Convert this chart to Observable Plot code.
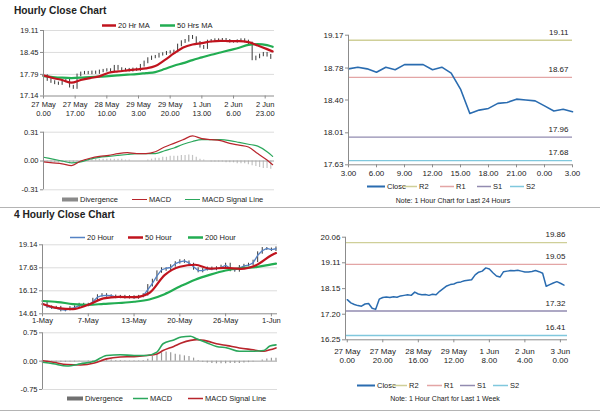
<!DOCTYPE html>
<html><head><meta charset="utf-8">
<script src="https://cdn.jsdelivr.net/npm/d3@7"></script>
<script src="https://cdn.jsdelivr.net/npm/@observablehq/plot@0.6"></script>
<style>
body{margin:0;background:#fff;}
#root{position:relative;width:600px;height:413px;overflow:hidden;font-family:"Liberation Sans",Arial,sans-serif;color:#222;background:#fff;}
.title{position:absolute;font-weight:bold;font-size:10.2px;white-space:nowrap;}
.leg{position:absolute;font-size:7.5px;display:flex;align-items:center;white-space:nowrap;transform:translateY(-50%);}
.note{position:absolute;font-size:7px;white-space:nowrap;transform:translate(-50%,-50%);}
.sep{position:absolute;left:0;width:600px;height:1px;background:#b4b4b4;}
</style></head><body><div id="root"></div><script>
// ---------- Hourly chart data (hour index from 27 May 0.00) ----------
const hourTicks = [0, 17, 34, 51, 68, 85, 102, 119];
const hourTickLabels = ["27 May\n0.00","27 May\n17.00","28 May\n10.00","29 May\n3.00","29 May\n20.00","1 Jun\n13.00","2 Jun\n6.00","2 Jun\n23.00"];
const hourlyYTicks = [17.14, 17.79, 18.45, 19.11];
// close every 2 hours
const hourlyClose = [
  17.74,17.62,17.56,17.52,17.50,17.58,17.60,17.42,17.38,17.76,
  17.82,17.84,17.82,17.85,17.83,17.88,17.90,17.92,17.90,18.02,
  17.95,17.92,17.93,17.90,17.94,17.92,18.05,18.15,18.25,18.30,
  18.32,18.38,18.40,18.44,18.46,18.48,18.66,18.76,18.80,18.92,
  18.88,18.74,18.62,18.58,18.78,18.80,18.82,18.81,18.83,18.80,
  18.77,18.77,18.79,18.82,18.78,18.72,18.24,18.30,18.36,18.41,
  18.35,18.28];
const maHours = [0,5,10,15,20,25,30,35,40,45,50,55,60,65,70,75,80,85,90,95,100,105,110,115,120,123];
const ma20Hr = [17.76,17.68,17.62,17.54,17.62,17.68,17.73,17.84,17.88,17.91,17.94,17.97,18.04,18.22,18.42,18.60,18.69,18.73,18.78,18.80,18.79,18.79,18.76,18.66,18.55,18.48];
const ma50Hr = [17.74,17.71,17.69,17.68,17.69,17.71,17.72,17.74,17.76,17.78,17.80,17.83,17.86,17.95,18.05,18.13,18.22,18.30,18.38,18.45,18.52,18.59,18.68,18.70,18.67,18.62];
const macdHourly = [-0.01,-0.02,-0.03,-0.05,0.00,0.03,0.05,0.06,0.08,0.09,0.08,0.08,0.10,0.15,0.19,0.23,0.27,0.24,0.23,0.22,0.19,0.17,0.15,0.08,0.01,-0.04];
const signalHourly = [0.04,0.02,0.00,-0.02,-0.01,0.02,0.04,0.05,0.06,0.07,0.08,0.08,0.08,0.11,0.14,0.18,0.21,0.23,0.23,0.23,0.22,0.20,0.18,0.16,0.10,0.05];
const divergenceHourly = [
  -0.01,-0.01,-0.02,-0.02,-0.02,-0.02,-0.02,-0.03,-0.02,-0.01,
  0.00,0.01,0.01,0.02,0.02,0.02,0.02,0.02,0.02,0.02,
  0.02,0.02,0.01,0.01,0.00,0.00,0.00,0.00,0.01,0.02,
  0.03,0.03,0.04,0.04,0.05,0.05,0.05,0.06,0.06,0.065,
  0.06,0.04,0.02,0.01,0.00,-0.01,-0.01,-0.01,-0.01,-0.02,
  -0.02,-0.02,-0.03,-0.03,-0.03,-0.04,-0.05,-0.06,-0.07,-0.08,
  -0.08,-0.09];
const macdHourlyTicks = [-0.31, 0, 0.31];

// ---------- Last 24 hours ----------
const last24Close = [18.77,18.79,18.77,18.73,18.79,18.76,18.82,18.82,18.82,18.76,18.79,18.72,18.53,18.24,18.28,18.30,18.36,18.37,18.41,18.40,18.39,18.33,18.27,18.29,18.26];
const last24Ticks = [0,3,6,9,12,15,18,21,24];
const last24TickLabels = ["3.00","6.00","9.00","12.00","15.00","18.00","21.00","0.00","3.00"];
const last24YTicks = [17.63, 18.01, 18.40, 18.78, 19.17];
const levels24 = [19.11, 18.67, 17.96, 17.68];
const levelNames = ["R2","R1","S1","S2"];

// ---------- Last week (same hourly closes) ----------
const weekTicks = [0,20,40,60,80,100,120];
const weekTickLabels = ["27 May\n0.00","27 May\n20.00","28 May\n16.00","29 May\n12.00","1 Jun\n8.00","2 Jun\n4.00","3 Jun\n0.00"];
const weekYTicks = [16.25, 17.20, 18.15, 19.11, 20.06];
const levelsWeek = [19.86, 19.05, 17.32, 16.41];

// ---------- 4 hourly chart (bar index from 1-May) ----------
const fourTicks = [0,30,60,90,120,150];
const fourTickLabels = ["1-May","7-May","13-May","20-May","26-May","1-Jun"];
const fourYTicks = [14.61, 16.12, 17.63, 19.14];
// every 3 bars
const close4h = [
  15.35,15.05,14.98,15.02,14.82,14.88,15.00,15.05,15.22,15.15,
  15.22,15.55,15.78,15.85,15.78,15.76,15.68,15.74,15.66,15.72,
  15.64,15.74,15.85,16.45,16.80,17.35,17.55,17.48,17.75,17.95,
  18.08,18.00,17.85,17.55,17.38,17.50,17.60,17.52,17.62,17.72,
  17.85,17.45,17.42,17.70,17.78,17.85,18.05,18.60,18.88,18.85,
  18.78,18.92];
const ma20Hour = [
  15.30,15.10,15.02,14.98,14.88,14.85,14.95,15.02,15.15,15.20,
  15.18,15.40,15.70,15.80,15.82,15.80,15.72,15.70,15.72,15.70,
  15.68,15.70,15.78,16.20,16.60,17.10,17.50,17.60,17.65,17.90,
  18.02,18.08,17.95,17.70,17.45,17.45,17.55,17.55,17.58,17.65,
  17.80,17.60,17.50,17.62,17.75,17.80,17.95,18.45,18.75,18.90,
  18.82,18.88];
const slowBars = [0,10,20,30,40,50,60,70,80,90,100,110,120,130,140,150,153];
const ma50Hour = [15.25,14.98,14.92,15.20,15.62,15.72,15.70,15.98,17.15,17.70,17.83,17.58,17.62,17.56,17.80,18.45,18.60];
const ma200Hour = [15.45,15.38,15.25,15.20,15.26,15.32,15.40,15.55,15.90,16.40,16.85,17.18,17.45,17.60,17.68,17.85,17.90];
const macdBars = [0,7,16,25,34,42,51,60,68,75,79,86,91,97,101,108,114,121,129,138,145,149,153];
const macd4h = [-0.03,-0.07,-0.13,-0.07,0.00,0.15,0.17,0.15,0.15,0.24,0.46,0.56,0.64,0.66,0.59,0.48,0.39,0.35,0.26,0.26,0.28,0.40,0.43];
const signal4h = [0.01,-0.03,-0.09,-0.10,-0.05,0.06,0.11,0.12,0.15,0.19,0.28,0.39,0.48,0.55,0.57,0.53,0.46,0.41,0.35,0.30,0.26,0.30,0.35];
const divergence4h = [
  -0.01,-0.02,-0.02,-0.03,-0.03,-0.03,-0.02,-0.02,-0.01,0.00,0.01,
  0.02,0.03,0.03,0.03,0.03,0.02,0.02,0.01,0.01,0.01,0.01,
  0.02,0.05,0.12,0.18,0.22,0.24,0.22,0.18,0.16,0.14,0.12,
  0.08,0.02,-0.03,-0.05,-0.06,-0.07,-0.07,-0.07,-0.06,-0.06,-0.06,
  -0.05,-0.04,-0.02,0.00,0.03,0.06,0.08,0.08];
const macd4hTicks = [-0.75, 0, 0.75];

// ---------- styles ----------
const FONT = "Liberation Sans, Arial, Helvetica, sans-serif";
const RED = "#c0141e", GREEN = "#22ad52", BLUE20 = "#5582c4", CLOSE = "#2a6cb0";
const MACD_RED = "#b8252c", MACD_GREEN = "#2ba75c";
const LEVEL_COLORS = ["#cfcf98", "#e3a5a5", "#928bb0", "#80c8dd"];
const AXIS = "#8c8c8c", GRID = "#dcdcdc";
const style = {fontFamily: FONT, fontSize: "7.5px", color: "#222", background: "transparent", overflow: "visible"};
const root = document.getElementById("root");
function place(el, left, top) { el.style.position = "absolute"; el.style.left = left + "px"; el.style.top = top + "px"; root.appendChild(el); }
const f2 = d => d.toFixed(2);
const lookup = (ticks, labels) => d => labels[ticks.indexOf(d)];

// ---------- rows ----------
const hourRows = hourlyClose.map((c, i) => ({h: i * 2, c, p: i ? hourlyClose[i - 1] : c}));
const maRows = maHours.map((h, i) => ({h, a: ma20Hr[i], b: ma50Hr[i], m: macdHourly[i], s: signalHourly[i]}));
const divRows = divergenceHourly.map((v, i) => ({h: i * 2, v}));
const fourRows = close4h.map((c, i) => ({b: i * 3, c, p: i ? close4h[i - 1] : c, m20: ma20Hour[i], d: divergence4h[i]}));
const slowRows = slowBars.map((b, i) => ({b, m50: ma50Hour[i], m200: ma200Hour[i]}));
const macd4Rows = macdBars.map((b, i) => ({b, m: macd4h[i], s: signal4h[i]}));

// ---------- A: hourly close ----------
place(Plot.plot({
  width: 290, height: 100, marginLeft: 43, marginRight: 16, marginTop: 10, marginBottom: 24.5, style,
  x: {domain: [0, 124], label: null}, y: {domain: [17.14, 19.11], label: null},
  marks: [
    Plot.ruleY(hourlyYTicks.slice(1), {stroke: GRID}),
    Plot.ruleX(hourRows, {x: "h", y1: d => Math.max(d.p, d.c), y2: d => Math.min(d.p, d.c), stroke: "#3a3a3a", strokeWidth: 1, insetTop: -1.3, insetBottom: -1.3}),
    Plot.line(maRows, {x: "h", y: "b", stroke: GREEN, strokeWidth: 2.2, curve: "monotone-x"}),
    Plot.line(maRows, {x: "h", y: "a", stroke: RED, strokeWidth: 2.2, curve: "monotone-x"}),
    Plot.ruleX([0], {stroke: AXIS}),
    Plot.ruleY([17.14], {stroke: AXIS}),
    Plot.axisY({ticks: hourlyYTicks, tickFormat: f2, tickSize: 3, tickPadding: 2, stroke: AXIS, label: null}),
    Plot.axisX({ticks: hourTicks, tickFormat: lookup(hourTicks, hourTickLabels), tickSize: 3, tickPadding: 1, lineHeight: 1.25, stroke: AXIS, label: null})
  ]
}), 0, 20);

// ---------- B: hourly MACD ----------
place(Plot.plot({
  width: 290, height: 70, marginLeft: 43, marginRight: 16, marginTop: 6.7, marginBottom: 5.7, style,
  x: {domain: [0, 124], label: null, axis: null}, y: {domain: [-0.31, 0.31], label: null},
  marks: [
    Plot.ruleY([0.31, -0.31], {stroke: GRID}),
    Plot.ruleX(divRows, {x: "h", y1: 0, y2: "v", stroke: "#c4c4c4", strokeWidth: 1.2}),
    Plot.ruleY([0], {stroke: "#a0a0a0"}),
    Plot.line(maRows, {x: "h", y: "s", stroke: MACD_GREEN, strokeWidth: 1.2, curve: "monotone-x"}),
    Plot.line(maRows, {x: "h", y: "m", stroke: MACD_RED, strokeWidth: 1.2, curve: "monotone-x"}),
    Plot.ruleX([0], {stroke: AXIS}),
    Plot.axisY({ticks: macdHourlyTicks, tickFormat: f2, tickSize: 3, tickPadding: 2, stroke: AXIS, label: null})
  ]
}), 0, 125);

// ---------- C: last 24 hours ----------
place(Plot.plot({
  width: 300, height: 160, marginLeft: 48, marginRight: 28, marginTop: 14.7, marginBottom: 15.7, style,
  x: {domain: [0, 24], label: null}, y: {domain: [17.63, 19.17], label: null},
  marks: [
    ...levels24.map((v, i) => Plot.ruleY([v], {stroke: LEVEL_COLORS[i], strokeWidth: 1.3})),
    Plot.text(levels24, {x: 24, y: d => d, text: f2, textAnchor: "end", dx: -4, dy: -8, fontSize: 8}),
    Plot.line(last24Close, {x: (d, i) => i, y: d => d, stroke: CLOSE, strokeWidth: 1.6}),
    Plot.ruleX([0], {stroke: AXIS}),
    Plot.ruleY([17.63], {stroke: AXIS}),
    Plot.axisY({ticks: last24YTicks, tickFormat: f2, tickSize: 3, tickPadding: 2, stroke: AXIS, label: null, fontSize: 8}),
    Plot.axisX({ticks: last24Ticks, tickFormat: lookup(last24Ticks, last24TickLabels), tickSize: 3, tickPadding: 3, stroke: AXIS, label: null, fontSize: 8})
  ]
}), 300, 20);

// ---------- D: 4 hourly close ----------
place(Plot.plot({
  width: 290, height: 100, marginLeft: 42, marginRight: 13, marginTop: 14.3, marginBottom: 16.7, style,
  x: {domain: [0, 154], label: null}, y: {domain: [14.61, 19.14], label: null},
  marks: [
    Plot.ruleY(fourYTicks.slice(1), {stroke: GRID}),
    Plot.ruleX(fourRows, {x: "b", y1: d => Math.max(d.p, d.c), y2: d => Math.min(d.p, d.c), stroke: "#3a3a3a", strokeWidth: 1, insetTop: -1.2, insetBottom: -1.2}),
    Plot.line(fourRows, {x: "b", y: "m20", stroke: BLUE20, strokeWidth: 1.3}),
    Plot.line(slowRows, {x: "b", y: "m200", stroke: GREEN, strokeWidth: 2.2, curve: "monotone-x"}),
    Plot.line(slowRows, {x: "b", y: "m50", stroke: RED, strokeWidth: 2.2, curve: "monotone-x"}),
    Plot.ruleX([0], {stroke: AXIS}),
    Plot.ruleY([14.61], {stroke: AXIS}),
    Plot.axisY({ticks: fourYTicks, tickFormat: f2, tickSize: 3, tickPadding: 2, stroke: AXIS, label: null}),
    Plot.axisX({ticks: fourTicks, tickFormat: lookup(fourTicks, fourTickLabels), tickSize: 3, tickPadding: 1, stroke: AXIS, label: null})
  ]
}), 0, 230);

// ---------- E: 4 hourly MACD ----------
place(Plot.plot({
  width: 290, height: 68, marginLeft: 42, marginRight: 13, marginTop: 6.3, marginBottom: 5, style,
  x: {domain: [0, 154], label: null, axis: null}, y: {domain: [-0.75, 0.75], label: null},
  marks: [
    Plot.ruleY([0.75, -0.75], {stroke: GRID}),
    Plot.ruleX(fourRows, {x: "b", y1: 0, y2: "d", stroke: "#9a9a9a", strokeWidth: 1.2}),
    Plot.ruleY([0], {stroke: "#a0a0a0"}),
    Plot.line(macd4Rows, {x: "b", y: "s", stroke: MACD_RED, strokeWidth: 1.6, curve: "monotone-x"}),
    Plot.line(macd4Rows, {x: "b", y: "m", stroke: MACD_GREEN, strokeWidth: 1.6, curve: "monotone-x"}),
    Plot.ruleX([0], {stroke: AXIS}),
    Plot.axisY({ticks: macd4hTicks, tickFormat: f2, tickSize: 3, tickPadding: 2, stroke: AXIS, label: null})
  ]
}), 0, 326);

// ---------- F: last week ----------
place(Plot.plot({
  width: 300, height: 145, marginLeft: 45, marginRight: 33, marginTop: 11.7, marginBottom: 30.7, style,
  x: {domain: [-1, 124], label: null}, y: {domain: [16.25, 20.06], label: null},
  marks: [
    ...levelsWeek.map((v, i) => Plot.ruleY([v], {stroke: LEVEL_COLORS[i], strokeWidth: 1.3})),
    Plot.text(levelsWeek, {x: 124, y: d => d, text: f2, textAnchor: "end", dx: -2, dy: -8, fontSize: 8}),
    Plot.line(hourRows, {x: "h", y: "c", stroke: CLOSE, strokeWidth: 1.5}),
    Plot.ruleX([-1], {stroke: AXIS}),
    Plot.ruleY([16.25], {stroke: AXIS}),
    Plot.axisY({ticks: weekYTicks, tickFormat: f2, tickSize: 3, tickPadding: 2, stroke: AXIS, label: null, fontSize: 8}),
    Plot.axisX({ticks: weekTicks, tickFormat: lookup(weekTicks, weekTickLabels), tickSize: 3, tickPadding: 4, lineHeight: 1.2, stroke: AXIS, label: null, fontSize: 8})
  ]
}), 300, 225);

// ---------- titles, legends, notes, separators ----------
function title(text, top) { const d = document.createElement("div"); d.className = "title"; d.textContent = text; d.style.left = "14px"; d.style.top = top + "px"; root.appendChild(d); }
function leg(x, y, label, color, width, len, bar) {
  const d = document.createElement("div"); d.className = "leg"; d.style.left = x + "px"; d.style.top = y + "px";
  const sw = bar ? `<svg width="${len}" height="6"><rect x="0" y="1" width="${len}" height="4" fill="${color}"/></svg>`
                 : `<svg width="${len}" height="4"><line x1="0" y1="2" x2="${len}" y2="2" stroke="${color}" stroke-width="${width}"/></svg>`;
  d.innerHTML = sw + `<span style="margin-left:2px">${label}</span>`; root.appendChild(d);
}
function note(text, x, y) { const d = document.createElement("div"); d.className = "note"; d.textContent = text; d.style.left = x + "px"; d.style.top = y + "px"; root.appendChild(d); }
function sep(y) { const d = document.createElement("div"); d.className = "sep"; d.style.top = y + "px"; root.appendChild(d); }

title("Hourly Close Chart", 5);
title("4 Hourly Close Chart", 209);
sep(207); sep(410);

leg(102, 25, "20 Hr MA", RED, 2.5, 14);
leg(160, 25, "50 Hrs MA", GREEN, 2.5, 15);
leg(62, 199, "Divergence", "#8a8a8a", 0, 16, true);
leg(132, 199, "MACD", MACD_RED, 1.2, 15);
leg(185, 199, "MACD Signal Line", MACD_GREEN, 1.2, 15);

const legX24 = [367, 403, 440, 477, 510];
["Close", ...levelNames].forEach((n, i) => leg(legX24[i], 186, n, i ? LEVEL_COLORS[i - 1] : CLOSE, i ? 1.3 : 2, i ? 14 : 18));
note("Note: 1 Hour Chart for Last 24 Hours", 453, 200);

leg(70, 237, "20 Hour", BLUE20, 1.6, 15);
leg(128, 237, "50 Hour", RED, 2.5, 15);
leg(188, 237, "200 Hour", GREEN, 2.5, 15);
leg(67, 398, "Divergence", "#707070", 0, 16, true);
leg(133, 398, "MACD", MACD_GREEN, 1.6, 15);
leg(188, 398, "MACD Signal Line", MACD_RED, 1.6, 15);

const legXWk = [357, 392, 427, 460, 493];
["Close", ...levelNames].forEach((n, i) => leg(legXWk[i], 385, n, i ? LEVEL_COLORS[i - 1] : CLOSE, i ? 1.3 : 2, i ? 15 : 18));
note("Note: 1 Hour Chart for Last 1 Week", 445, 398);
</script></body></html>
